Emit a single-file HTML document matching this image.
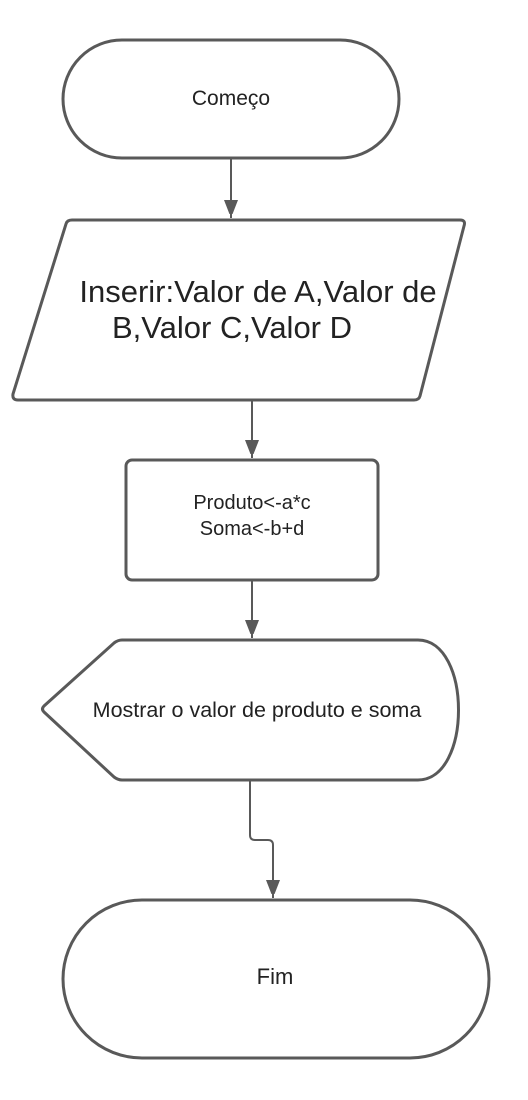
<!DOCTYPE html>
<html><head><style>body{margin:0;background:#fff}svg{display:block}text{font-family:"Liberation Sans",sans-serif;fill:#222}</style></head><body>
<svg width="528" height="1100" viewBox="0 0 528 1100">
<defs><marker id="a" markerWidth="14" markerHeight="20" refX="18" refY="7" orient="auto" markerUnits="userSpaceOnUse"><path d="M0,0 L18,7 L0,14 z" fill="#595959"/></marker></defs>
<g fill="none" stroke="#595959" stroke-width="3">
<path d="M122,40 H340 A59,59 0 0 1 340,158 H122 A59,59 0 0 1 122,40 Z" fill="#fff"/>
<path d="M72,220 H460 Q466,220 464,226 L420,396 Q419,400 414,400 H18 Q12,400 13,394 L66,224 Q67,220 72,220 Z" fill="#fff"/>
<rect x="126" y="460" width="252" height="120" rx="6" fill="#fff"/>
<path d="M122,640 H418 C472,640 472,780 418,780 H122 Q118,780 114,777 L44,712 Q41,709 44,706 L114,643 Q118,640 122,640 Z" fill="#fff"/>
<path d="M142,900 H410 A79,79 0 0 1 410,1058 H142 A79,79 0 0 1 142,900 Z" fill="#fff"/>
<g stroke-width="2">
<line x1="231" y1="159" x2="231" y2="218" marker-end="url(#a)"/>
<line x1="252" y1="401" x2="252" y2="458" marker-end="url(#a)"/>
<line x1="252" y1="581" x2="252" y2="638" marker-end="url(#a)"/>
<path d="M250,781 V835 Q250,840 255,840 H268 Q273,840 273,845 V898" marker-end="url(#a)"/>
</g></g>
<text x="231" y="105" font-size="21" text-anchor="middle">Começo</text>
<text x="258" y="302" font-size="31" text-anchor="middle">Inserir:Valor de A,Valor de</text>
<text x="232" y="338" font-size="31" text-anchor="middle">B,Valor C,Valor D</text>
<text x="252" y="509" font-size="20" text-anchor="middle">Produto&lt;-a*c</text>
<text x="252" y="535" font-size="20" text-anchor="middle">Soma&lt;-b+d</text>
<text x="257" y="717" font-size="21.5" text-anchor="middle">Mostrar o valor de produto e soma</text>
<text x="275" y="984" font-size="22" text-anchor="middle">Fim</text>
</svg>
</body></html>
